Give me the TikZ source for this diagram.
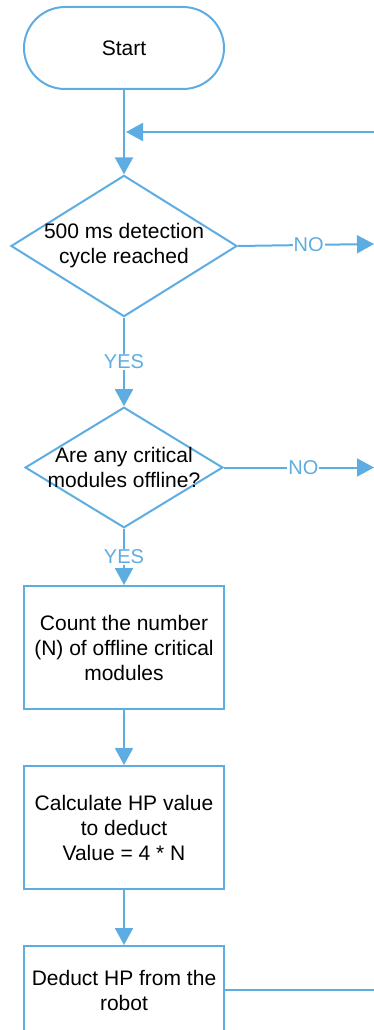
\documentclass[tikz,border=0pt]{standalone}
\usepackage{fontspec}
\setmainfont{Liberation Sans}
\usetikzlibrary{shapes.geometric,arrows.meta}
\definecolor{flowblue}{RGB}{94,173,226}

\begin{document}
\begin{tikzpicture}[x=1pt,y=-1pt,>={Triangle[length=17pt,width=18pt]},line width=2pt,
  every node/.style={font=\fontsize{21}{25}\selectfont},
  term/.style={draw=flowblue,rounded corners=41pt,minimum width=200pt,minimum height=82pt},
  decision/.style={draw=flowblue,shape=diamond,aspect=1.6,align=center},
  process/.style={draw=flowblue,minimum width=200pt,align=center},
  flow/.style={draw=flowblue},
  answer/.style={fill=white,text=flowblue,inner sep=1pt,font=\fontsize{20}{24}\selectfont}]
\useasboundingbox (0,0) rectangle (374,1030);
\clip (0,0) rectangle (374,1030);
\node[term] (start) at (124,48) {Start};
\node[decision,inner sep=-1pt] (cycle) at (124,246) {500 ms detection\\cycle reached};
\node[decision,inner sep=-4pt,aspect=1.64] (offline) at (124,467.5) {Are any critical\\modules offline?};
\node[process,minimum height=123pt] (count) at (124,647.5) {Count the number\\(N) of offline critical\\modules};
\node[process,minimum height=123pt] (calc) at (124,827.5) {Calculate HP value\\to deduct\\Value = 4 * N};
\node[process,minimum height=88pt] (deduct) at (124,990) {Deduct HP from the\\robot};
\coordinate (loop) at (374,132);
\coordinate (join) at (126,132);
\coordinate (skip1) at (374,244);
\coordinate (skip2) at (374,467.5);
\coordinate (back) at (374,990);
\draw[flow,->] (start) -- (cycle);
\draw[flow,->] (loop) -- (join);
\draw[flow,->] (cycle) -- node[answer]{YES} (offline);
\draw[flow,->] (cycle.east) -- node[answer,pos=0.52]{NO} (skip1);
\draw[flow,->] (offline) -- node[answer]{YES} (count);
\draw[flow,->] (offline.east) -- node[answer,pos=0.53]{NO} (skip2);
\draw[flow,->] (count) -- (calc);
\draw[flow,->] (calc) -- (deduct);
\draw[flow] (deduct.east) -- (back);
\end{tikzpicture}
\end{document}
